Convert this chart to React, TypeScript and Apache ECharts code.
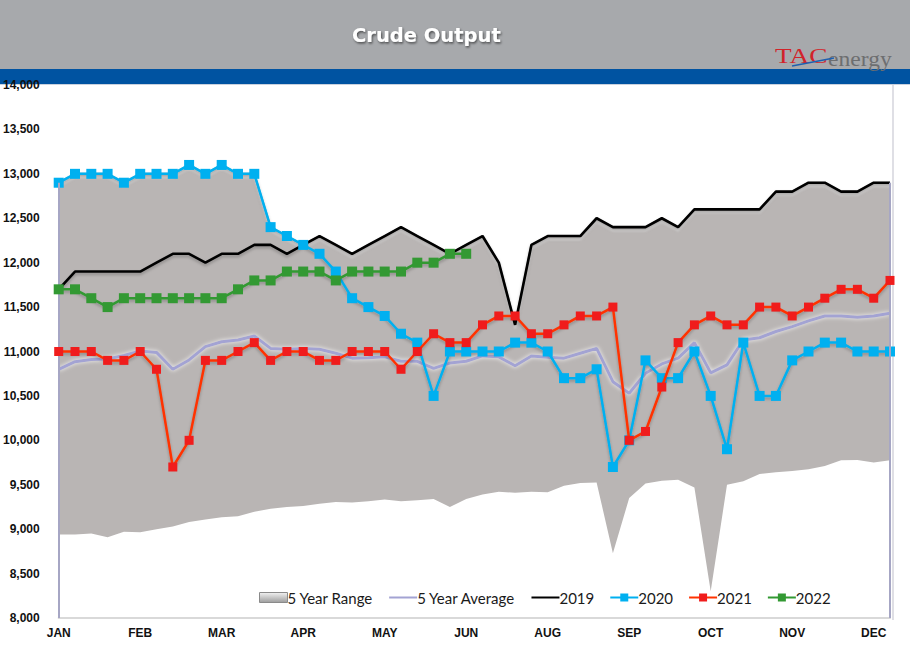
import React, { useEffect, useRef } from "react";
import * as echarts from "echarts";

const monthLabels = ["JAN", "FEB", "MAR", "APR", "MAY", "JUN", "AUG", "SEP", "OCT", "NOV", "DEC"];
const weeks = Array.from({ length: 52 }, (_, i) => "W" + (i + 1));
const yTicks = { min: 8000, max: 14000, interval: 500 };

const rangeLow = [8940, 8940, 8950, 8910, 8970, 8965, 9000, 9030, 9080, 9110, 9135, 9145, 9195, 9230, 9250, 9260, 9285, 9305, 9300, 9315, 9335, 9315, 9325, 9340, 9250, 9340, 9390, 9420, 9410, 9420, 9415, 9490, 9520, 9525, 8730, 9350, 9515, 9545, 9555, 9470, 8300, 9500, 9540, 9620, 9640, 9655, 9675, 9710, 9775, 9780, 9750, 9775];
const rangeHigh = [12900, 13000, 13000, 13000, 12900, 13000, 13000, 13000, 13100, 13000, 13100, 13000, 13000, 12400, 12300, 12200, 12300, 12200, 12100, 12200, 12300, 12400, 12300, 12200, 12100, 12200, 12300, 12000, 11300, 12200, 12300, 12300, 12300, 12500, 12400, 12400, 12400, 12500, 12400, 12600, 12600, 12600, 12600, 12600, 12800, 12800, 12900, 12900, 12800, 12800, 12900, 12900];
const avg5 = [10800, 10885, 10910, 10915, 10955, 11005, 10990, 10800, 10905, 11055, 11110, 11130, 11175, 11035, 11025, 11035, 11025, 10980, 10925, 10930, 10940, 10890, 10890, 10810, 10870, 10890, 10950, 10940, 10840, 10950, 10935, 10925, 10980, 11035, 10660, 10530, 10755, 10860, 10925, 11100, 10760, 10850, 11130, 11155, 11225, 11280, 11345, 11400, 11400, 11385, 11400, 11430];
const y2019 = [11700, 11900, 11900, 11900, 11900, 11900, 12000, 12100, 12100, 12000, 12100, 12100, 12200, 12200, 12100, 12200, 12300, 12200, 12100, 12200, 12300, 12400, 12300, 12200, 12100, 12200, 12300, 12000, 11300, 12200, 12300, 12300, 12300, 12500, 12400, 12400, 12400, 12500, 12400, 12600, 12600, 12600, 12600, 12600, 12800, 12800, 12900, 12900, 12800, 12800, 12900, 12900];
const y2020 = [12900, 13000, 13000, 13000, 12900, 13000, 13000, 13000, 13100, 13000, 13100, 13000, 13000, 12400, 12300, 12200, 12100, 11900, 11600, 11500, 11400, 11200, 11100, 10500, 11000, 11000, 11000, 11000, 11100, 11100, 11000, 10700, 10700, 10800, 9700, 10000, 10900, 10700, 10700, 11000, 10500, 9900, 11100, 10500, 10500, 10900, 11000, 11100, 11100, 11000, 11000, 11000];
const y2021 = [11000, 11000, 11000, 10900, 10900, 11000, 10800, 9700, 10000, 10900, 10900, 11000, 11100, 10900, 11000, 11000, 10900, 10900, 11000, 11000, 11000, 10800, 11000, 11200, 11100, 11100, 11300, 11400, 11400, 11200, 11200, 11300, 11400, 11400, 11500, 10000, 10100, 10600, 11100, 11300, 11400, 11300, 11300, 11500, 11500, 11400, 11500, 11600, 11700, 11700, 11600, 11800];
const y2022 = [11700, 11700, 11600, 11500, 11600, 11600, 11600, 11600, 11600, 11600, 11600, 11700, 11800, 11800, 11900, 11900, 11900, 11800, 11900, 11900, 11900, 11900, 12000, 12000, 12100, 12100];

const lineShadow = { shadowColor: "rgba(0,0,0,0.25)", shadowBlur: 3, shadowOffsetY: 2 };

export default function App() {
  const ref = useRef<HTMLDivElement>(null);
  useEffect(() => {
    if (!ref.current) return;
    const chart = echarts.init(ref.current, null, { renderer: "svg" });
    const rangeSpan = rangeHigh.map((v, i) => v - rangeLow[i]);
    const option = {
      animation: false,
      backgroundColor: "#ffffff",
      grid: { left: 57, right: 20, top: 85, bottom: 41, containLabel: false },
      graphic: [
        { type: "rect", z: -10, shape: { x: 0, y: 0, width: 910, height: 69 }, style: { fill: "#a7a9ac" } },
        { type: "rect", z: -10, shape: { x: 0, y: 69, width: 910, height: 15 }, style: { fill: "#0053a1" } },
        { type: "rect", z: -10, shape: { x: 0, y: 84, width: 910, height: 1 }, style: { fill: "#c9d1de" } },
        {
          type: "text", z: 20, left: 352, top: 25,
          style: {
            text: "Crude Output", fill: "#ffffff", font: "bold 19.5px 'DejaVu Sans'",
            textShadowColor: "rgba(0,0,0,0.55)", textShadowBlur: 2, textShadowOffsetX: 1, textShadowOffsetY: 1.5,
          },
        },
        {
          type: "text", z: 20, x: 775, y: 45, scaleX: 1.3, scaleY: 1,
          style: { text: "TAC", fill: "#d2232a", font: "21px 'Liberation Serif'" },
        },
        {
          type: "text", z: 20, x: 828, y: 50, scaleX: 1.18, scaleY: 1,
          style: { text: "energy", fill: "#6d6e70", font: "20px 'Liberation Serif'" },
        },
        {
          type: "line", z: 21, shape: { x1: 792, y1: 66, x2: 834, y2: 58 },
          style: { stroke: "#1d5fb0", lineWidth: 1.5 },
        },
        { type: "line", z: 1, shape: { x1: 893, y1: 85, x2: 893, y2: 620 }, style: { stroke: "#d4d4dc", lineWidth: 1.5 } },
      ],
      legend: {
        left: 259,
        top: 590,
        padding: 0,
        itemWidth: 28,
        itemHeight: 10,
        itemGap: 15,
        textStyle: { fontFamily: "Lato", fontSize: 15, color: "#1a1a1a", padding: [0, 0, 0, -5] },
        data: [
          {
            name: "5 Year Range",
            icon: "rect",
            itemStyle: {
              color: new echarts.graphic.LinearGradient(0, 0, 0, 1, [
                { offset: 0, color: "#f2f2f2" },
                { offset: 1, color: "#9c9c9c" },
              ]),
              borderColor: "#8a8a8a",
              borderWidth: 1,
            },
          },
          { name: "5 Year Average", itemStyle: { opacity: 0 } },
          { name: "2019", itemStyle: { opacity: 0 } },
          { name: "2020" },
          { name: "2021" },
          { name: "2022" },
        ],
      },
      xAxis: {
        type: "category",
        data: weeks,
        boundaryGap: false,
        axisLine: { show: true, lineStyle: { color: "#d9d9d9", width: 2 } },
        axisTick: { show: false },
        axisLabel: {
          interval: 4,
          margin: 9,
          fontFamily: "Liberation Sans",
          fontWeight: "bold",
          fontSize: 12,
          color: "#111111",
          formatter: (_v: string, idx: number) => monthLabels[idx / 5] ?? "",
        },
        splitLine: { show: false },
      },
      yAxis: {
        type: "value",
        min: yTicks.min,
        max: yTicks.max,
        interval: yTicks.interval,
        axisLine: { show: false },
        axisTick: { show: false },
        splitLine: { show: false },
        axisLabel: {
          margin: 19,
          fontFamily: "Liberation Sans",
          fontWeight: "bold",
          fontSize: 12,
          color: "#111111",
          formatter: (v: number) => v.toLocaleString("en-US"),
        },
      },
      series: [
        {
          name: "rangeBase",
          type: "line",
          stack: "range",
          data: rangeLow,
          symbol: "none",
          lineStyle: { width: 0, opacity: 0 },
          silent: true,
          z: 1,
        },
        {
          name: "5 Year Range",
          type: "line",
          stack: "range",
          data: rangeSpan,
          symbol: "none",
          color: "#b9b5b4",
          lineStyle: {
            color: "#b9b5b4", width: 2,
            shadowColor: "rgba(255,255,255,0.75)", shadowBlur: 2, shadowOffsetY: 3,
          },
          areaStyle: { color: "#b9b5b4", opacity: 1 },
          silent: true,
          z: 1,
        },
        {
          name: "5 Year Average",
          type: "line",
          data: avg5,
          symbol: "none",
          color: "#a3a3d3",
          lineStyle: { color: "#a3a3d3", width: 3, shadowColor: "rgba(255,255,255,0.9)", shadowBlur: 4 },
          z: 2,
          markLine: {
            silent: true,
            symbol: ["none", "none"],
            label: { show: false },
            lineStyle: { color: "#a6a6c4", width: 2, type: "solid" },
            data: [
              [{ coord: [weeks[0], yTicks.min] }, { coord: [weeks[0], rangeHigh[0]] }],
              [{ coord: [weeks[51], yTicks.min] }, { coord: [weeks[51], rangeHigh[51]] }],
            ],
          },
        },
        {
          name: "2019",
          type: "line",
          data: y2019,
          symbol: "none",
          color: "#000000",
          lineStyle: { color: "#000000", width: 2.6, ...lineShadow },
          z: 3,
        },
        {
          name: "2020",
          type: "line",
          data: y2020,
          symbol: "rect",
          symbolSize: 10,
          showAllSymbol: true,
          color: "#00b0f0",
          lineStyle: { color: "#00b0f0", width: 2.5, ...lineShadow },
          itemStyle: { color: "#00b0f0" },
          z: 4,
        },
        {
          name: "2021",
          type: "line",
          data: y2021,
          symbol: "rect",
          symbolSize: 9,
          showAllSymbol: true,
          color: "#ff2a00",
          lineStyle: { color: "#ff3300", width: 2.5, ...lineShadow },
          itemStyle: { color: "#f01c1c" },
          z: 5,
        },
        {
          name: "2022",
          type: "line",
          data: y2022,
          symbol: "rect",
          symbolSize: 10,
          showAllSymbol: true,
          color: "#339933",
          lineStyle: { color: "#339933", width: 2.5, ...lineShadow },
          itemStyle: { color: "#339933" },
          z: 6,
        },
      ],
    };
    chart.setOption(option as any);
    return () => chart.dispose();
  }, []);
  return (
    <div
      ref={ref}
      style={{ position: "absolute", left: 0, top: 0, width: 910, height: 659 }}
    />
  );
}
